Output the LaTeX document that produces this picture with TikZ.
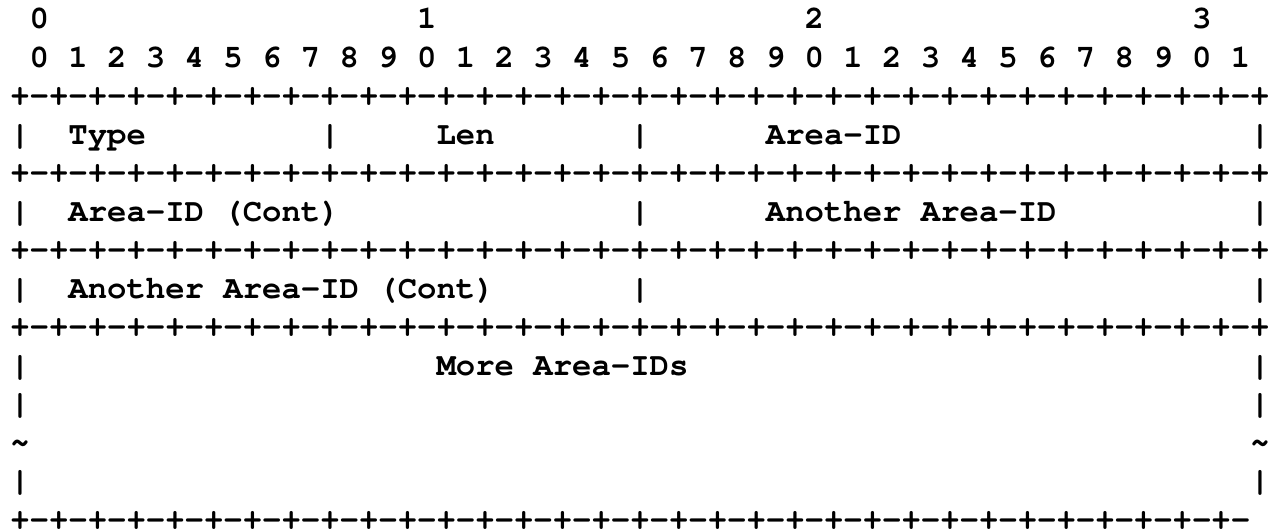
\documentclass[tikz,border=0pt]{standalone}
\usepackage[T1]{fontenc}
\usepackage{courier}
\usepackage{tikz}

\tikzset{
    cell/.style={anchor=base west, inner sep=0pt, outer sep=0pt,
        font=\ttfamily\bfseries\fontsize{32.29}{38.5}\selectfont}
}

\begin{document}
\begin{tikzpicture}[x=19.375pt, y=-38.5pt]
        \useasboundingbox (-0.5321,-0.7403) rectangle (65.0165,12.974);

        % bit ruler
        \foreach \d in {0,1,2,3}
            \node[cell] (tens\d) at (1+20*\d,0) {\d};
        \foreach \i in {0,...,31} {
            \pgfmathtruncatemacro\dg{mod(\i,10)}
            \node[cell] (bit\i) at (1+2*\i,1) {\dg};
        }

        % separators
        \foreach \r in {2,4,6,8}
            \node[cell] (sep\r) at (0,\r) {+-+-+-+-+-+-+-+-+-+-+-+-+-+-+-+-+-+-+-+-+-+-+-+-+-+-+-+-+-+-+-+-+};
        \node[cell] (bottom) at (0,13) {+-+-+-+-+-+-+-+-+-+-+-+-+-+-+-+-+-+-+-+-+-+-+-+-+-+-+-+-+-+-+-+-};

        % walls
        \foreach \c in {0,16,32,64}
            \node[cell] (bar3-\c) at (\c,3) {|};
        \foreach \r in {5,7}
            \foreach \c in {0,32,64}
                \node[cell] (bar\r-\c) at (\c,\r) {|};
        \foreach \r in {9,10,12}
            \foreach \c in {0,64}
                \node[cell] (bar\r-\c) at (\c,\r) {|};
        \foreach \c in {0,64}
            \node[cell] (cut\c) at (\c,11) {\textasciitilde};

        % fields
        \node[cell] (type) at (3,3) {Type};
        \node[cell] (len) at (22,3) {Len};
        \node[cell] (area) at (39,3) {Area-ID};
        \node[cell] (areacont) at (3,5) {Area-ID (Cont)};
        \node[cell] (another) at (39,5) {Another Area-ID};
        \node[cell] (anothercont) at (3,7) {Another Area-ID (Cont)};
        \node[cell] (more) at (22,9) {More Area-IDs};
    \end{tikzpicture}
\end{document}
